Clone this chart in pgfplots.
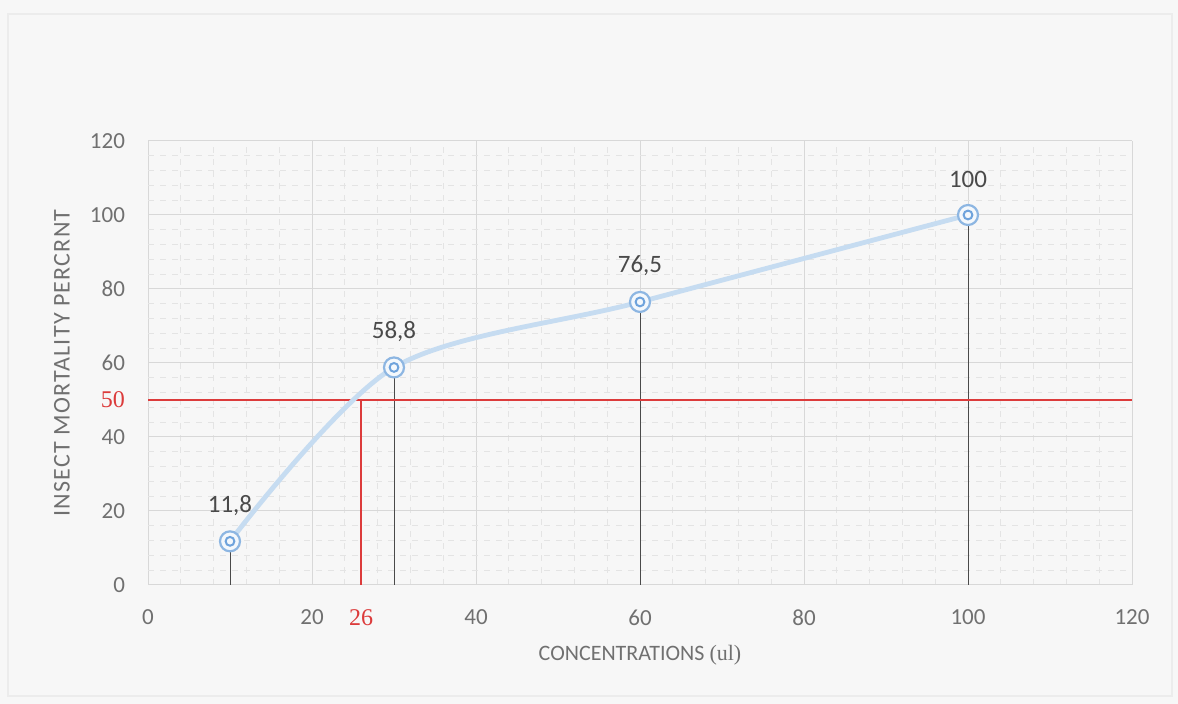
\documentclass[border=0pt]{standalone}
\usepackage{pgfplots}
\pgfplotsset{compat=1.18}
\usepackage{fontspec}
\setmainfont{Carlito}
\newfontfamily\accentfont{Liberation Serif}
\newfontfamily\spacedfont[LetterSpace=5]{Carlito}

\definecolor{gridmaj}{HTML}{D8D8D8}
\definecolor{gridmin}{HTML}{E4E4E4}
\definecolor{curve}{HTML}{C6DCF1}
\definecolor{ringout}{HTML}{8DB6E2}
\definecolor{ringin}{HTML}{6FA3DC}
\definecolor{markred}{HTML}{DC3B3B}
\definecolor{labgray}{HTML}{4A4A4A}
\definecolor{tickgray}{HTML}{707070}

\begin{document}
\begin{tikzpicture}
  % page background and chart frame
  \fill[white!97!black] (0pt,0pt) rectangle (589pt,352pt);
  \draw[gray!15, line width=0.6pt] (4pt,4pt) rectangle (586pt,345pt);
  \begin{axis}[
    at={(74pt,59.5pt)}, anchor=south west,
    width=492pt, height=222pt, scale only axis,
    xmin=0, xmax=120, ymin=0, ymax=120,
    xtick={0,20,...,120}, ytick={0,20,...,120},
    minor tick num=4,
    grid=both,
    major grid style={gridmaj, line width=0.5pt},
    minor grid style={gridmin, dashed, line width=0.4pt},
    axis line style={draw=none},
    major tick length=0pt, minor tick length=0pt,
    tick label style={font=\fontsize{11.5}{13}\selectfont, text=tickgray},
    /pgf/number format/assume math mode=true,
    xticklabel style={yshift=-9pt},
    yticklabel style={xshift=-8pt},
    extra x ticks={26},
    extra y ticks={50},
    extra tick style={grid=none,
      tick label style={font=\accentfont\fontsize{12}{14}\selectfont, text=markred}},
    xlabel={CONCENTRATIONS {\accentfont(ul)}},
    ylabel={\spacedfont INSECT MORTALITY PERCRNT},
    xlabel style={font=\fontsize{11}{13}\selectfont, text=tickgray,
      at={(axis description cs:0.5,0)}, anchor=center, yshift=-35pt},
    ylabel style={font=\fontsize{12}{14}\selectfont, text=tickgray,
      at={(axis description cs:0,0.5)}, anchor=center, yshift=43pt},
  ]
    % drop lines from each observation to the x axis
    \addplot[ycomb, draw=labgray, line width=0.5pt, no marks]
      coordinates {(10,11.8) (30,58.8) (60,76.5) (100,100)};
    % LC50 reading: 50 % mortality at 26 ul
    \addplot[markred, line width=0.8pt, no marks] coordinates {(0,50) (120,50)};
    \addplot[markred, line width=0.8pt, no marks] coordinates {(26,0) (26,50)};
    % mortality curve
    \addplot[curve, line width=2.4pt, smooth, mark=*, mark size=5pt,
      mark options={draw=ringout, fill=white!80!curve, line width=1.1pt}]
      coordinates {(10,11.8) (30,58.8) (60,76.5) (100,100)};
    \addplot[only marks, mark=o, mark size=2.2pt,
      mark options={draw=ringin, line width=1pt},
      point meta=explicit symbolic,
      nodes near coords,
      every node near coord/.append style={anchor=center, yshift=18pt,
        font=\fontsize{12.5}{14}\selectfont, text=labgray}]
      coordinates {(10,11.8) [11,8] (30,58.8) [58,8] (60,76.5) [76,5] (100,100) [100]};
  \end{axis}
\end{tikzpicture}
\end{document}
